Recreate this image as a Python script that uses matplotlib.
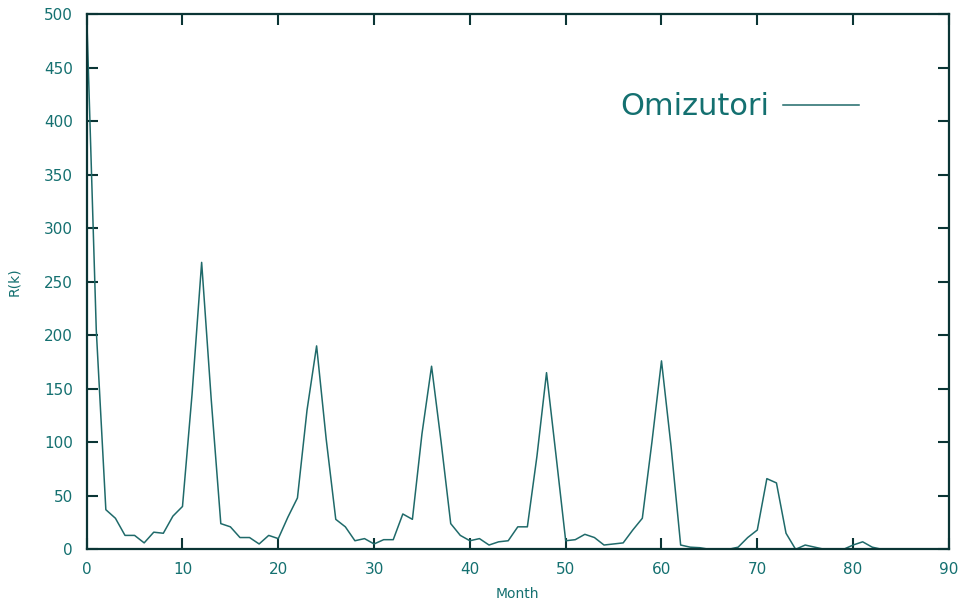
import matplotlib.pyplot as plt
import numpy as np

# mois k et valeurs R(k)
month = np.arange(0, 84)
r_k = [500, 205, 37, 29, 13, 13, 6, 16, 15, 31,
       40, 145, 268, 140, 24, 21, 11, 11, 5, 13,
       10, 30, 48, 130, 190, 103, 28, 21, 8, 10,
       5, 9, 9, 33, 28, 108, 171, 100, 24, 13,
       8, 10, 4, 7, 8, 21, 21, 87, 165, 87,
       8, 9, 14, 11, 4, 5, 6, 18, 29, 100,
       176, 96, 4, 2, 1.5, 0, 0, 0, 2, 11,
       18, 66, 62, 15, 0, 4, 2, 0, 0, 0,
       4, 7, 2, 0]

line_col = "#1f6a6a"
text_col = "#147070"
axis_col = "#0b3535"

fig = plt.figure(figsize=(9.61, 6.01), dpi=100)
ax = fig.add_axes([0.0902, 0.086, 0.8972, 0.8907])

ax.plot(month, r_k, color=line_col, lw=1.1, label="Omizutori")

ax.set_xlim(0, 90)
ax.set_ylim(0, 500)
ax.set_xticks(np.arange(0, 91, 10))
ax.set_yticks(np.arange(0, 501, 50))

for s in ax.spines.values():
    s.set_color(axis_col)
    s.set_linewidth(1.6)

ax.tick_params(direction="in", length=8, width=1.5, color=axis_col,
               top=True, right=True, labelsize=11, labelcolor=text_col)
ax.tick_params(axis="x", pad=9)
ax.tick_params(axis="y", pad=10)

ax.set_xlabel("Month", fontsize=10, color=text_col, labelpad=7)
ax.set_ylabel("R(k)", fontsize=10, color=text_col, labelpad=16)

leg = ax.legend(loc="upper right", bbox_to_anchor=(0.928, 0.905), frameon=False,
                markerfirst=False, fontsize=22, handlelength=2.5, handletextpad=0.45)
for t in leg.get_texts():
    t.set_color(text_col)

fig.savefig("out.png", dpi=100)
